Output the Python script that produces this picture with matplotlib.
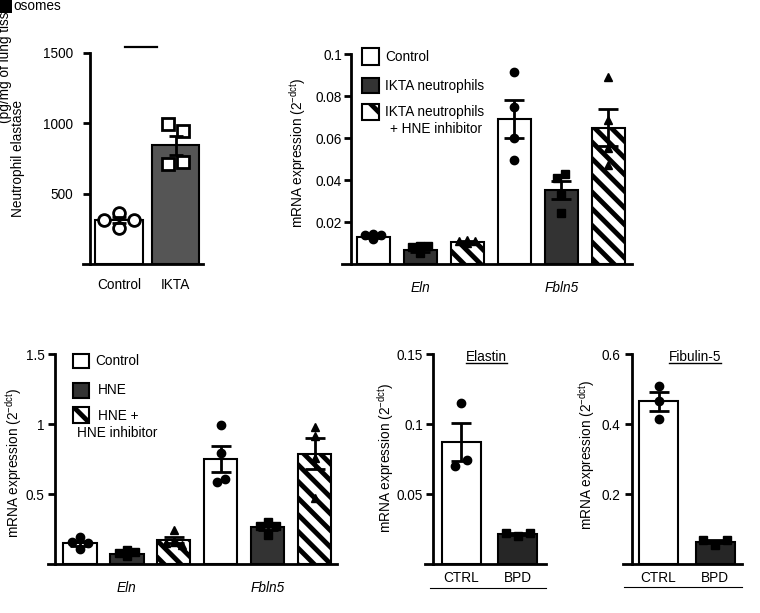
import numpy as np
import matplotlib
matplotlib.use("Agg")
import matplotlib.pyplot as plt
from matplotlib.patches import Rectangle
from matplotlib.lines import Line2D

plt.rcParams['font.family'] = ['Liberation Sans', 'DejaVu Sans']
plt.rcParams['font.size'] = 9.8
plt.rcParams['hatch.linewidth'] = 3.5
plt.rcParams['axes.linewidth'] = 2.0

# --- data ---
ne_groups = ['Control', 'IKTA']
ne_mean = [314, 843]
ne_sem = [20, 70]
ne_points = [[364, 314, 314, 257], [993, 945, 714, 724]]

genes = ['Eln', 'Fbln5']
ikta_labels = ['Control', 'IKTA neutrophils', 'IKTA neutrophils', '+ HNE inhibitor']
ikta_mean = [0.013, 0.0067, 0.0106, 0.069, 0.0352, 0.065]
ikta_sem = [0.0007, 0.0009, 0.0004, 0.0091, 0.0042, 0.0089]
ikta_points = [[0.0145, 0.0140, 0.0138, 0.0118],
               [0.0088, 0.0082, 0.0084, 0.0052],
               [0.0112, 0.0110, 0.0108, 0.0100],
               [0.0916, 0.0749, 0.0598, 0.0495],
               [0.0408, 0.0429, 0.0329, 0.0241],
               [0.0889, 0.0686, 0.0551, 0.0471]]

hne_labels = ['Control', 'HNE', 'HNE +', 'HNE inhibitor']
hne_mean = [0.15, 0.074, 0.174, 0.75, 0.264, 0.788]
hne_sem = [0.017, 0.011, 0.024, 0.093, 0.02, 0.11]
hne_points = [[0.195, 0.16, 0.15, 0.11],
              [0.10, 0.083, 0.085, 0.057],
              [0.245, 0.16, 0.15, 0.14],
              [0.995, 0.797, 0.59, 0.607],
              [0.30, 0.27, 0.27, 0.21],
              [0.916, 0.979, 0.757, 0.471]]

bpd_groups = ['CTRL', 'BPD']
elastin_mean = [0.0871, 0.0216]
elastin_sem = [0.0135, 0.0008]
elastin_points = [[0.115, 0.0702, 0.0745], [0.020, 0.0225, 0.0225]]
fibulin_mean = [0.4646, 0.0646]
fibulin_sem = [0.027, 0.005]
fibulin_points = [[0.509, 0.467, 0.414], [0.055, 0.07, 0.068]]

W, H = 760, 613
fig = plt.figure(figsize=(7.6, 6.13), dpi=100)
mrna = 'mRNA expression (2$^{\\mathregular{-dct}}$)'


def panel(x0, x1, ytop, ybot, spine_x, c0, step, ymax, ticks, tlabels, pad):
    ax = fig.add_axes([x0 / W, 1 - ybot / H, (x1 - x0) / W, (ybot - ytop) / H])
    ax.set_xlim((x0 - c0) / step, (x1 - c0) / step)
    ax.set_ylim(0, ymax)
    ax.spines[['top', 'right']].set_visible(False)
    ax.spines['left'].set_position(('data', (spine_x - c0) / step))
    ax.set_yticks(ticks, tlabels)
    ax.tick_params(axis='y', length=5, width=2, pad=pad)
    ax.tick_params(axis='x', length=0)
    ax.patch.set_visible(False)
    return ax


# prism-like scatter: points whose values sit close together are spread sideways
PATTERNS = {1: [0], 2: [-0.5, 0.5], 3: [0, -1, 1], 4: [0, -1, 1, 0]}


def spread(vals, close):
    vals = list(vals)
    order = np.argsort(vals)
    clusters, cur = [], [order[0]]
    for a, b in zip(order[:-1], order[1:]):
        if abs(vals[b] - vals[a]) < close:
            cur.append(b)
        else:
            clusters.append(cur)
            cur = [b]
    clusters.append(cur)
    offs = np.zeros(len(vals))
    for c in clusters:
        c = sorted(c)
        pat = PATTERNS.get(len(c), np.arange(len(c)) - (len(c) - 1) / 2)
        for idx, o in zip(c, pat):
            offs[idx] = o
    return offs


def bars(ax, means, sems, points, colors, hatches, markers, width, ms,
         hollow=False, jit=0.17, capsize=7):
    x = np.arange(len(means))
    bs = ax.bar(x, means, width, color=colors, edgecolor='k', linewidth=1.5, zorder=2)
    for b, h in zip(bs, hatches):
        if h:
            b.set_hatch(h)
    ymax = ax.get_ylim()[1]
    for i, pts in enumerate(points):
        offs = spread(pts, 0.035 * ymax) * jit
        ax.plot(x[i] + offs, pts, ls='none', marker=markers[i], ms=ms,
                mfc='white' if hollow else 'k', mec='k', mew=2 if hollow else 1,
                zorder=3, clip_on=False)
    ax.errorbar(x, means, yerr=sems, fmt='none', ecolor='k', elinewidth=2,
                capsize=capsize, capthick=2, zorder=4)
    return x


def vlabel(x, y, s, **kw):
    fig.text(x / W, 1 - y / H, s, rotation=90, ha='center', va='center', **kw)


def legend_box(x, y, w, h, color, hatch):
    fig.add_artist(Rectangle((x / W, 1 - (y + h) / H), w / W, h / H,
                             transform=fig.transFigure, fc=color, ec='k',
                             lw=1.5, hatch=hatch))


def ftext(x, y, s, **kw):
    return fig.text(x / W, 1 - y / H, s, va='center', **kw)


def fline(x0, x1, y, lw=1.0):
    fig.add_artist(Line2D([x0 / W, x1 / W], [1 - y / H, 1 - y / H],
                          transform=fig.transFigure, color='k', lw=lw))


HATCH = '\\\\'

# --- A: neutrophil elastase ---
ax1 = panel(83, 203, 53, 264, 90, 119, 56.5, 1500, [500, 1000, 1500],
            ['500', '1000', '1500'], 7)
x = bars(ax1, ne_mean, ne_sem, ne_points, ['white', '#555555'], [None, None],
         ['o', 's'], 0.84, 8.5, hollow=True, jit=0.27, capsize=5)
ax1.set_xticks(x, ne_groups)
ax1.tick_params(axis='x', pad=10)
fline(125, 157, 47, lw=1.6)
vlabel(18, 158, 'Neutrophil elastase')
fig.text(5 / W, 1 - 123 / H, '(pg/mg of lung tissue)', rotation=90,
         ha='center', va='bottom')
fig.add_artist(Rectangle((0, 1 - 13 / H), 12 / W, 13 / H,
                         transform=fig.transFigure, fc='k', ec='none'))
ftext(13, 6, 'osomes')

# --- B: IKTA neutrophils ---
ax2 = panel(341.7, 631.7, 54, 264, 351, 373.3, 47, 0.1,
            [0.02, 0.04, 0.06, 0.08, 0.1], ['0.02', '0.04', '0.06', '0.08', '0.1'], 1.5)
cols = ['white', '#333333', 'white'] * 2
hat = [None, None, HATCH] * 2
x = bars(ax2, ikta_mean, ikta_sem, ikta_points, cols, hat,
         ['o', 's', '^'] * 2, 0.70, 6)
ax2.set_xticks([1, 4], genes, style='italic')
ax2.tick_params(axis='x', pad=12)
vlabel(298, 153, mrna)
legend_box(361.7, 48.3, 17.6, 16.7, 'white', None)
legend_box(361.7, 77.7, 17.6, 15.5, '#333333', None)
legend_box(361.7, 104, 17.6, 16, 'white', '\\')
ftext(385, 56.7, ikta_labels[0])
ftext(385, 85.7, ikta_labels[1])
ftext(385, 111.7, ikta_labels[2])
ftext(390, 129, ikta_labels[3])

# --- C: HNE ---
ax3 = panel(48, 337, 354, 564.3, 55, 80, 46.9, 1.5, [0.5, 1, 1.5],
            ['0.5', '1', '1.5'], 2.5)
x = bars(ax3, hne_mean, hne_sem, hne_points, cols, hat,
         ['o', 's', '^'] * 2, 0.71, 6)
ax3.set_xticks([1, 4], genes, style='italic')
ax3.tick_params(axis='x', pad=12)
vlabel(14, 463, mrna)
legend_box(72.7, 354, 16.6, 14, 'white', None)
legend_box(72.7, 382.7, 16.6, 15, '#333333', None)
legend_box(72.7, 407, 16.6, 15.7, 'white', '\\')
ftext(95.7, 360.7, hne_labels[0])
ftext(97.7, 390, hne_labels[1])
ftext(98, 416, hne_labels[2])
ftext(76.7, 433.3, hne_labels[3])

# --- D: BPD elastin ---
ax4 = panel(425, 546, 354.3, 564.3, 433.3, 461.3, 56.5, 0.15, [0.05, 0.1, 0.15],
            ['0.05', '0.1', '0.15'], 2.5)
x = bars(ax4, elastin_mean, elastin_sem, elastin_points, ['white', '#262626'],
         [None, None], ['o', 's'], 0.695, 6, jit=0.21)
ax4.set_xticks(x, bpd_groups)
ax4.tick_params(axis='x', pad=5)
vlabel(386, 458, mrna)
fline(430, 546, 587.7, lw=0.8)

# --- E: BPD fibulin-5 ---
ax5 = panel(623.3, 742.3, 354, 564.3, 631.7, 658.5, 56.8, 0.6, [0.2, 0.4, 0.6],
            ['0.2', '0.4', '0.6'], 3)
x = bars(ax5, fibulin_mean, fibulin_sem, fibulin_points, ['white', '#262626'],
         [None, None], ['o', 's'], 0.68, 6, jit=0.21)
ax5.set_xticks(x, bpd_groups)
ax5.tick_params(axis='x', pad=5)
vlabel(587, 455, mrna)
fline(624.3, 742.3, 586.7, lw=0.8)

# underlined titles
titles = [ftext(486, 356.7, 'Elastin', ha='center'),
          ftext(695, 356.7, 'Fibulin-5', ha='center')]
fig.canvas.draw()
r = fig.canvas.get_renderer()
for t in titles:
    bb = t.get_window_extent(r)
    fig.add_artist(Line2D([bb.x0 / W, bb.x1 / W], [(bb.y0 + 1) / H] * 2,
                          transform=fig.transFigure, color='k', lw=1.0))

fig.savefig('out.png', dpi=100)
